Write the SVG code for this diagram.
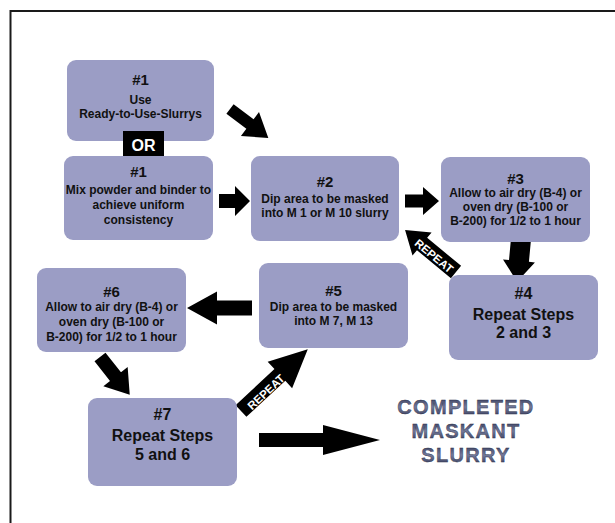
<svg xmlns="http://www.w3.org/2000/svg" width="615" height="523" viewBox="0 0 615 523">
<defs>
<linearGradient id="done" x1="0" y1="0" x2="0" y2="1">
<stop offset="0" stop-color="#2f3452"/>
<stop offset="0.5" stop-color="#737a9c"/>
<stop offset="1" stop-color="#2f3452"/>
</linearGradient>
</defs>
<style>
.box{fill:#9b9dc5;}
.t{font-family:"Liberation Sans",Arial,sans-serif;font-weight:bold;fill:#111;text-anchor:middle;}
.h{font-size:15px;}
.b{font-size:12px;}
.big{font-size:16px;}
.arr{fill:#000;}
.rep{font-family:"Liberation Sans",Arial,sans-serif;font-weight:bold;font-size:11.5px;fill:#fff;text-anchor:middle;}
.done{font-family:"Liberation Sans",Arial,sans-serif;font-weight:bold;font-size:20px;letter-spacing:1.3px;fill:url(#done);stroke:#2c3048;stroke-width:0.4;text-anchor:middle;}
</style>
<rect x="0" y="0" width="615" height="523" fill="#fff"/>
<rect x="10.5" y="11" width="700" height="600" fill="none" stroke="#1a1a1a" stroke-width="2"/>

<g id="connectors">
<!-- A: 1a -> 2 -->
<polygon class="arr" transform="translate(230,109) rotate(37)" points="0,-6 25,-6 25,-15 48,0 25,15 25,6 0,6"/>
<!-- B: 1b -> 2 -->
<polygon class="arr" transform="translate(219,201)" points="0,-7 16,-7 16,-15 31,0 16,15 16,7 0,7"/>
<!-- C: 2 -> 3 -->
<polygon class="arr" transform="translate(405,201)" points="0,-6.5 18,-6.5 18,-14 34,0 18,14 18,6.5 0,6.5"/>
<!-- D: 3 -> 4 -->
<polygon class="arr" transform="translate(521,239) rotate(95.3)" points="0,-10 22,-10 22,-16 43,0 22,16 22,10 0,10"/>
<!-- H: 4 -> 2 REPEAT -->
<g transform="translate(456,272) rotate(-140.5)">
<polygon class="arr" points="0,-8 44,-8 44,-15 66,0 44,15 44,8 0,8"/>
</g>
<text class="rep" transform="translate(434,256) rotate(39.5)" y="4">REPEAT</text>
<!-- E: 5 -> 6 -->
<polygon class="arr" transform="translate(252,308) rotate(180)" points="0,-7.5 35,-7.5 35,-16.5 65,0 35,16.5 35,7.5 0,7.5"/>
<!-- F: 6 -> 7 -->
<polygon class="arr" transform="translate(100,357) rotate(51.7)" points="0,-7 25,-7 25,-15.5 48,0 25,15.5 25,7 0,7"/>
<!-- G: 7 -> 5 REPEAT -->
<g transform="translate(241,411) rotate(-42.8)">
<polygon class="arr" points="0,-8 53,-8 53,-18 91,0 53,18 53,8 0,8"/>
</g>
<text class="rep" transform="translate(266,392) rotate(-42.8)" y="4">REPEAT</text>
<!-- I: 7 -> completed -->
<polygon class="arr" transform="translate(259,440)" points="0,-7 64,-7 64,-15 121,0 64,15 64,7 0,7"/>
</g>

<g id="n1a">
<rect class="box" x="67" y="60" width="147" height="81" rx="9"/>
<text class="t h" x="140.5" y="85">#1</text>
<text class="t b" x="140.5" y="104">Use</text>
<text class="t b" x="140.5" y="118">Ready-to-Use-Slurrys</text>
</g>

<g id="n1b">
<rect class="box" x="64" y="156" width="149" height="84" rx="9"/>
<text class="t h" x="138.5" y="177">#1</text>
<text class="t b" x="138.5" y="194">Mix powder and binder to</text>
<text class="t b" x="138.5" y="209">achieve uniform</text>
<text class="t b" x="138.5" y="224">consistency</text>
</g>

<g id="or">
<rect x="123" y="131" width="41" height="25" fill="#000"/>
<text class="t" x="143.5" y="151" style="font-size:16px;fill:#fff">OR</text>
</g>

<g id="n2">
<rect class="box" x="251" y="156" width="148" height="85" rx="9"/>
<text class="t h" x="325" y="187">#2</text>
<text class="t b" x="325" y="203">Dip area to be masked</text>
<text class="t b" x="325" y="217">into M 1 or M 10 slurry</text>
</g>

<g id="n3">
<rect class="box" x="441" y="157" width="149" height="85" rx="9"/>
<text class="t h" x="515.5" y="184">#3</text>
<text class="t b" x="515.5" y="197">Allow to air dry (B-4) or</text>
<text class="t b" x="515.5" y="211">oven dry (B-100 or</text>
<text class="t b" x="515.5" y="225">B-200) for 1/2 to 1 hour</text>
</g>

<g id="n4">
<rect class="box" x="449" y="275" width="149" height="85" rx="9"/>
<text class="t" x="523.5" y="299" style="font-size:16px">#4</text>
<text class="t big" x="523.5" y="320">Repeat Steps</text>
<text class="t big" x="523.5" y="338">2 and 3</text>
</g>

<g id="n5">
<rect class="box" x="259" y="263" width="149" height="85" rx="9"/>
<text class="t h" x="333.5" y="296">#5</text>
<text class="t b" x="333.5" y="311">Dip area to be masked</text>
<text class="t b" x="333.5" y="325">into M 7, M 13</text>
</g>

<g id="n6">
<rect class="box" x="37" y="268" width="149" height="84" rx="9"/>
<text class="t h" x="111.5" y="297">#6</text>
<text class="t b" x="111.5" y="311">Allow to air dry (B-4) or</text>
<text class="t b" x="111.5" y="326">oven dry (B-100 or</text>
<text class="t b" x="111.5" y="341">B-200) for 1/2 to 1 hour</text>
</g>

<g id="n7">
<rect class="box" x="88" y="398" width="149" height="88" rx="9"/>
<text class="t" x="162.5" y="420" style="font-size:16px">#7</text>
<text class="t big" x="162.5" y="441">Repeat Steps</text>
<text class="t big" x="162.5" y="460">5 and 6</text>
</g>

<g id="completed">
<text class="done" x="466" y="414">COMPLETED</text>
<text class="done" x="466" y="438">MASKANT</text>
<text class="done" x="466" y="462">SLURRY</text>
</g>
</svg>
